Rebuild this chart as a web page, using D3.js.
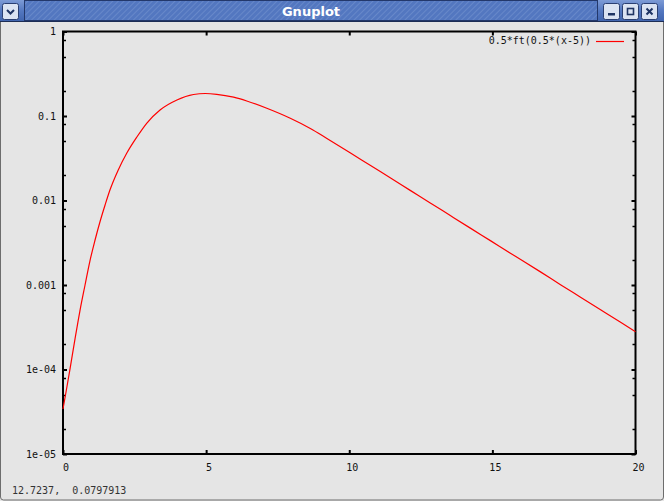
<!DOCTYPE html>
<html>
<head>
<meta charset="utf-8">
<script src="https://cdn.jsdelivr.net/npm/d3@7"></script>
<style>
  body { margin: 0; background: #e5e5e5; }
  svg { display: block; }
  text { font-family: "DejaVu Sans Mono", monospace; }
</style>
</head>
<body>
<svg id="chart" width="664" height="501"></svg>
<script>
// ---- data ----
const xValues = [0, 0.13, 0.25, 0.42, 0.59, 0.77, 0.94, 1.12, 1.29, 1.47, 1.64, 1.93, 2.23, 2.58, 2.93, 3.39, 3.98, 4.56, 4.97, 5.37, 5.96, 6.42, 7.12, 7.94, 8.64, 9.22, 10.03, 10.73, 11.43, 12.13, 12.83, 13.53, 14.23, 14.93, 15.63, 16.68, 17.38, 18.08, 18.78, 19.48, 20];
const yValues = [3.41e-5, 6.04e-5, 1.04e-4, 2.30e-4, 4.92e-4, 1.00e-3, 1.92e-3, 3.41e-3, 5.57e-3, 8.85e-3, 0.0133, 0.0230, 0.0365, 0.0564, 0.0826, 0.1178, 0.1547, 0.1796, 0.1846, 0.1807, 0.1669, 0.1505, 0.1233, 0.0939, 0.0711, 0.0542, 0.0368, 0.0261, 0.01857, 0.01318, 0.00937, 0.00664, 0.00471, 0.00335, 0.00238, 0.00143, 0.00101, 7.18e-4, 5.10e-4, 3.62e-4, 2.80e-4];
const xTicks = [0, 5, 10, 15, 20];
const xTickLabels = ["0", "5", "10", "15", "20"];
const yTicks = [1e-5, 1e-4, 1e-3, 1e-2, 1e-1, 1];
const yTickLabels = ["1e-05", "1e-04", "0.001", "0.01", "0.1", "1"];
const yMinorMultipliers = [2, 5, 8];
const legendLabel = "0.5*ft(0.5*(x-5))";
const windowTitle = "Gnuplot";
const statusText = "12.7237,  0.0797913";

(function () {
const svg = d3.select("#chart");
const W = 664, H = 501;

// ---- window chrome ----
const defs = svg.append("defs");
const grad = defs.append("linearGradient").attr("id", "tb").attr("x1", 0).attr("y1", 0).attr("x2", 0).attr("y2", 1);
grad.append("stop").attr("offset", "0%").attr("stop-color", "#7d9bd6");
grad.append("stop").attr("offset", "50%").attr("stop-color", "#5377c0");
grad.append("stop").attr("offset", "100%").attr("stop-color", "#3f63ad");
const pat = defs.append("pattern").attr("id", "stripes").attr("width", 4).attr("height", 4)
  .attr("patternUnits", "userSpaceOnUse").attr("patternTransform", "rotate(45)");
pat.append("rect").attr("width", 4).attr("height", 4).attr("fill", "#5377c0");
pat.append("line").attr("x1", 0).attr("y1", 0).attr("x2", 0).attr("y2", 4)
  .attr("stroke", "#8fa9dc").attr("stroke-width", 1.2).attr("opacity", 0.55);

// window body
svg.append("rect").attr("x", 0.5).attr("y", 0.5).attr("width", W - 1).attr("height", H - 1.5)
  .attr("rx", 3).attr("fill", "#e5e5e5").attr("stroke", "#6d6d6d");

// title bar
svg.append("rect").attr("x", 0).attr("y", 0).attr("width", W).attr("height", 22).attr("fill", "url(#tb)");
svg.append("rect").attr("x", 24.5).attr("y", 0.5).attr("width", 573).attr("height", 20)
  .attr("fill", "url(#stripes)").attr("stroke", "#23386b");
svg.append("line").attr("x1", 0).attr("x2", W).attr("y1", 21.5).attr("y2", 21.5).attr("stroke", "#1d2d55");
svg.append("text").attr("x", 311).attr("y", 16).attr("text-anchor", "middle")
  .style("font-family", "'DejaVu Sans', sans-serif").style("font-size", "13px").style("font-weight", "bold")
  .attr("fill", "#ffffff").text(windowTitle);

function button(x0, kind) {
  const g = svg.append("g").attr("transform", `translate(${x0},3)`);
  g.append("rect").attr("x", 0.5).attr("y", 0.5).attr("width", 16).attr("height", 16).attr("rx", 2)
    .attr("fill", "#dbe3f2").attr("stroke", "#2a3f72");
  const c = "#1f3463";
  if (kind === "down") {
    g.append("path").attr("d", "M5,7 L8.5,10.5 L12,7").attr("fill", "none").attr("stroke", c).attr("stroke-width", 2);
  } else if (kind === "min") {
    g.append("rect").attr("x", 5).attr("y", 10).attr("width", 7).attr("height", 2.5).attr("fill", c);
  } else if (kind === "max") {
    g.append("rect").attr("x", 5.5).attr("y", 5.5).attr("width", 6).attr("height", 6).attr("fill", "none").attr("stroke", c).attr("stroke-width", 1.6);
  } else {
    g.append("path").attr("d", "M5.5,5.5 L11.5,11.5 M11.5,5.5 L5.5,11.5").attr("stroke", c).attr("stroke-width", 2);
  }
}
button(2, "down");
button(603, "min");
button(622, "max");
button(641, "close");

// ---- plot ----
const pLeft = 63, pRight = 635.5, pTop = 31.5, pBottom = 454;
const x = d3.scaleLinear().domain([0, 20]).range([pLeft, pRight]);
const y = d3.scaleLog().domain([1e-5, 1]).range([pBottom, pTop]);

// minor y ticks (left and right, inward)
const minor = [];
yTicks.slice(0, -1).forEach(t => yMinorMultipliers.forEach(m => minor.push(t * m)));
const plot = svg.append("g");
plot.selectAll("line.minL").data(minor).join("line")
  .attr("x1", pLeft).attr("x2", pLeft + 3).attr("y1", d => Math.round(y(d)) + 0.5).attr("y2", d => Math.round(y(d)) + 0.5)
  .attr("stroke", "#000").attr("stroke-width", 1.5);
plot.selectAll("line.minR").data(minor).join("line")
  .attr("x1", pRight).attr("x2", pRight - 3).attr("y1", d => Math.round(y(d)) + 0.5).attr("y2", d => Math.round(y(d)) + 0.5)
  .attr("stroke", "#000").attr("stroke-width", 1.5);

// axes with major ticks and labels
const yAxis = d3.axisLeft(y).tickValues(yTicks).tickFormat((d, i) => yTickLabels[i]).tickSize(-4).tickPadding(7);
const gy = svg.append("g").attr("transform", `translate(${pLeft},0)`).call(yAxis);
const yAxisR = d3.axisRight(y).tickValues(yTicks).tickFormat("").tickSize(-4);
const gyr = svg.append("g").attr("transform", `translate(${pRight},0)`).call(yAxisR);
const xAxis = d3.axisBottom(x).tickValues(xTicks).tickFormat((d, i) => xTickLabels[i]).tickSize(-4).tickPadding(10);
const gx = svg.append("g").attr("transform", `translate(0,${pBottom})`).call(xAxis);
const xAxisT = d3.axisTop(x).tickValues(xTicks).tickFormat("").tickSize(-4);
const gxt = svg.append("g").attr("transform", `translate(0,${pTop})`).call(xAxisT);

[gy, gyr, gx, gxt].forEach(g => {
  g.select(".domain").remove();
  g.selectAll(".tick line").attr("stroke", "#000").attr("stroke-width", 2);
  g.selectAll(".tick text").attr("fill", "#111").style("font-size", "10px")
    .style("font-family", "'DejaVu Sans Mono', monospace");
});
gx.selectAll(".tick text").attr("dx", 2.5);

// frame
svg.append("rect").attr("x", pLeft).attr("y", pTop).attr("width", pRight - pLeft).attr("height", pBottom - pTop)
  .attr("fill", "none").attr("stroke", "#000").attr("stroke-width", 2);

// curve
const pts = xValues.map((v, i) => [v, yValues[i]]);
const line = d3.line().x(d => x(d[0])).y(d => y(d[1])).curve(d3.curveMonotoneX);
svg.append("path").datum(pts).attr("d", line).attr("fill", "none").attr("stroke", "#ff0000").attr("stroke-width", 1.2);

// legend
svg.append("text").attr("x", 591).attr("y", 44).attr("text-anchor", "end")
  .style("font-size", "10px").attr("fill", "#111").text(legendLabel);
svg.append("line").attr("x1", 596).attr("x2", 624).attr("y1", 41.5).attr("y2", 41.5)
  .attr("stroke", "#ff0000").attr("stroke-width", 1.2);

// status bar
svg.append("text").attr("x", 12).attr("y", 494).style("font-size", "10px").attr("fill", "#333")
  .style("white-space", "pre").text(statusText);
})();
</script>
</body>
</html>
